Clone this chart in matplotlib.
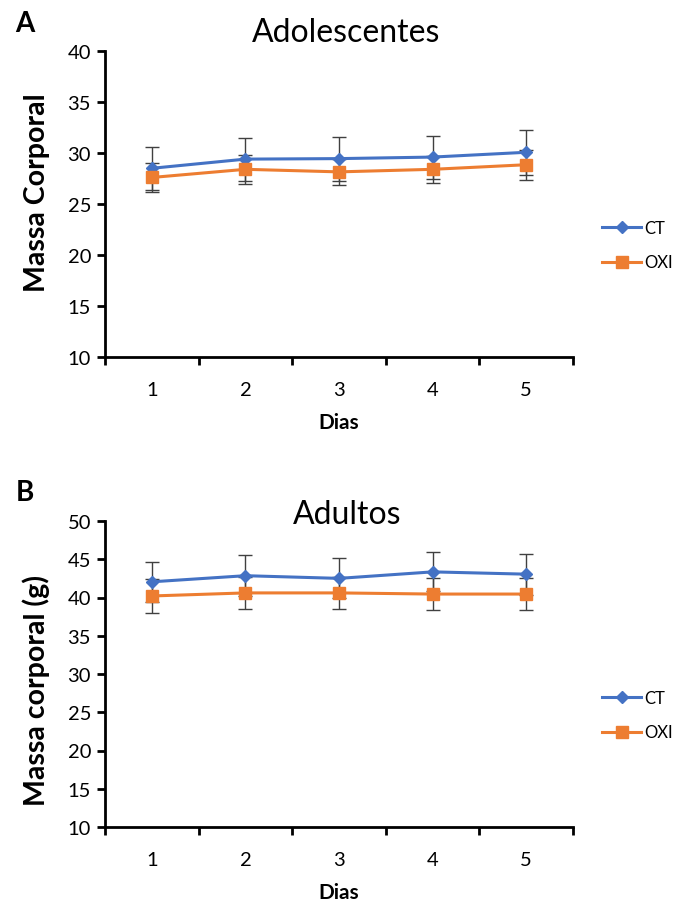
import matplotlib
matplotlib.use("Agg")
import matplotlib.pyplot as plt
import numpy as np

plt.rcParams['font.family'] = ['Lato', 'DejaVu Sans']

days = [1, 2, 3, 4, 5]
day_labels = ["1", "2", "3", "4", "5"]

# Panel A - Adolescentes
ado_ct = [28.5, 29.4, 29.45, 29.6, 30.07]
ado_ct_err = [2.1, 2.1, 2.15, 2.1, 2.2]
ado_oxi = [27.6, 28.4, 28.15, 28.4, 28.85]
ado_oxi_err = [1.4, 1.4, 1.3, 1.35, 1.45]

# Panel B - Adultos
adu_ct = [42.05, 42.85, 42.5, 43.35, 43.05]
adu_ct_err = [2.65, 2.65, 2.6, 2.55, 2.7]
adu_oxi = [40.2, 40.6, 40.6, 40.45, 40.45]
adu_oxi_err = [2.25, 2.1, 2.1, 2.1, 2.1]

W, H = 675, 904
fig = plt.figure(figsize=(W/100, H/100), dpi=100)

BLUE = '#4472C4'
ORANGE = '#ED7D31'

def px_axes(l, t, r, b):
    return fig.add_axes([l/W, 1 - b/H, (r-l)/W, (b-t)/H])

def panel(ax, ct, ct_err, oxi, oxi_err, ylim, yticks, ylabel, ylabel_y, legend_y):
    x = np.array(days)
    ax.errorbar(x, ct, yerr=ct_err, fmt='none', ecolor='#404040', elinewidth=1,
                capsize=5, capthick=1, zorder=2)
    ax.errorbar(x, oxi, yerr=oxi_err, fmt='none', ecolor='#404040', elinewidth=1,
                capsize=5, capthick=1, zorder=2)
    l1, = ax.plot(x, ct, color=BLUE, lw=2.2, marker='D', ms=6.5, label='CT', zorder=3)
    l2, = ax.plot(x, oxi, color=ORANGE, lw=2.2, marker='s', ms=8, label='OXI', zorder=3)
    ax.set_xlim(0.5, 5.5)
    ax.set_ylim(*ylim)
    ax.set_yticks(yticks)
    ax.set_xticks(x)
    ax.set_xticklabels(day_labels)
    ax.set_xticks(np.arange(0.5, 6.0, 1.0), minor=True)
    ax.tick_params(axis='x', which='major', length=0, pad=17, labelsize=14.5)
    ax.tick_params(axis='x', which='minor', length=6, width=2, direction='out')
    ax.tick_params(axis='y', length=6, width=2, direction='out', labelsize=14.5, pad=4)
    for s in ['top', 'right']:
        ax.spines[s].set_visible(False)
    for s in ['left', 'bottom']:
        ax.spines[s].set_linewidth(2)
        ax.spines[s].set_color('black')
    ax.set_xlabel('Dias', fontsize=15, fontweight='bold')
    ax.xaxis.set_label_coords(0.5, -0.18)
    ax.set_ylabel(ylabel, fontsize=20.5, fontweight='bold')
    ax.yaxis.set_label_coords(-0.117, ylabel_y)
    ax.legend(handles=[l1, l2], loc='center left',
              bbox_to_anchor=(602/W, 1 - legend_y/H), bbox_transform=fig.transFigure,
              frameon=False, fontsize=12, handlelength=2.35, handletextpad=0.2,
              labelspacing=1.13, borderaxespad=0, borderpad=0)

axA = px_axes(105, 52, 573, 358)
panel(axA, ado_ct, ado_ct_err, ado_oxi, ado_oxi_err, (10, 40), np.arange(10, 41, 5),
      'Massa Corporal', 0.54, 246)
axB = px_axes(105, 522, 573, 828)
panel(axB, adu_ct, adu_ct_err, adu_oxi, adu_oxi_err, (10, 50), np.arange(10, 51, 5),
      'Massa corporal (g)', 0.45, 716)

fig.text(346/W, 1 - 33/H, 'Adolescentes', ha='center', va='center', fontsize=23)
fig.text(347/W, 1 - 515/H, 'Adultos', ha='center', va='center', fontsize=23)
fig.text(25/W, 1 - 24/H, 'A', ha='center', va='center', fontsize=20, fontweight='bold')
fig.text(25/W, 1 - 493/H, 'B', ha='center', va='center', fontsize=20, fontweight='bold')

fig.savefig('out.png', dpi=100)
